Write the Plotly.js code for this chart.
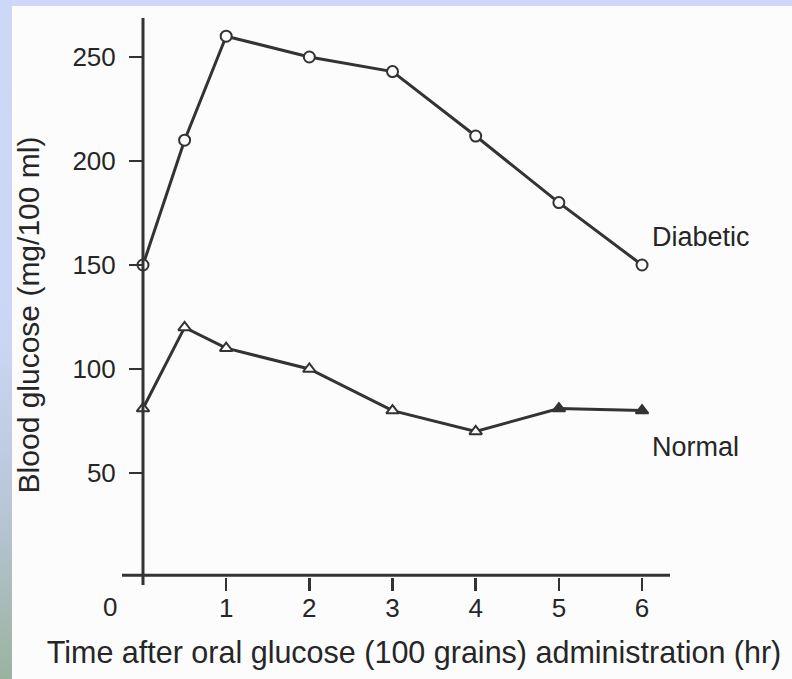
<!DOCTYPE html>
<html>
<head>
<meta charset="utf-8">
<script src="https://cdn.plot.ly/plotly-3.0.1.min.js"></script>
<style>
  html, body { margin: 0; padding: 0; }
  body {
    width: 792px; height: 679px; overflow: hidden; position: relative;
    background: linear-gradient(to bottom, #cdd8f8 0%, #cbd6f4 50%, #b8c6d6 75%, #9bb2a0 100%);
  }
  #chart { position: absolute; left: 12px; top: 6px; width: 780px; height: 673px; }
</style>
</head>
<body>
<div id="chart"></div>
<script>
// ---- data ----
const timeHr   = [0, 0.5, 1, 2, 3, 4, 5, 6];
const diabetic = [150, 210, 260, 250, 243, 212, 180, 150];
const normal   = [81, 120, 110, 100, 80, 70, 81, 80];
const xTickVals = [1, 2, 3, 4, 5, 6];
const yTickVals = [50, 100, 150, 200, 250];
const seriesLabels = ["Diabetic", "Normal"];
const xTitle = "Time after oral glucose (100 grains) administration (hr)";
const yTitle = "Blood glucose (mg/100 ml)";

// ---- styling ----
const ink = "#262626";
const lineInk = "#333333";
const paper = "#fcfcfc";
const font = "Liberation Sans, Arial, sans-serif";

const xRange = [-0.2525, 6.769];
const yRange = [-16.83, 268.75];

const traces = [
  {
    x: timeHr, y: diabetic, name: seriesLabels[0], type: "scatter", mode: "lines+markers",
    line: { color: lineInk, width: 3 },
    marker: { symbol: "circle", size: 11, color: paper, line: { color: lineInk, width: 2 } },
    cliponaxis: false
  },
  {
    x: timeHr, y: normal, name: seriesLabels[1], type: "scatter", mode: "lines+markers",
    line: { color: lineInk, width: 3 },
    marker: {
      symbol: "triangle-up", size: 11,
      color: normal.map((v, i) => (i >= timeHr.length - 2 ? lineInk : paper)),
      line: { color: lineInk, width: 2 }
    },
    cliponaxis: false
  }
];

const layout = {
  width: 780, height: 673,
  margin: { l: 110, r: 86, t: 12, b: 67 },
  paper_bgcolor: paper, plot_bgcolor: paper,
  showlegend: false,
  font: { family: font, color: ink, size: 26 },
  xaxis: {
    range: xRange, anchor: "free", position: 0.0589,
    showgrid: false, zeroline: false, showline: false,
    tickmode: "array", tickvals: xTickVals, ticktext: xTickVals.map(String),
    ticks: "outside", ticklen: 13, tickwidth: 2.5, tickcolor: lineInk,
    ticklabelstandoff: -5,
    tickfont: { size: 26, color: ink, family: font },
    title: { text: xTitle, font: { size: 30.5, color: ink, family: font }, standoff: 19 }
  },
  yaxis: {
    range: yRange, anchor: "free", position: 0.03596,
    showgrid: false, zeroline: false, showline: false,
    tickmode: "array", tickvals: yTickVals, ticktext: yTickVals.map(String),
    ticks: "outside", ticklen: 14, tickwidth: 2.5, tickcolor: lineInk,
    ticklabelstandoff: 8,
    tickfont: { size: 26, color: ink, family: font },
    title: { text: yTitle, font: { size: 30, color: ink, family: font }, standoff: 22 }
  },
  shapes: [
    { type: "line", xref: "x", yref: "y", x0: 0, x1: 0, y0: -3.85, y1: 268.75,
      line: { color: lineInk, width: 3 } },
    { type: "line", xref: "x", yref: "y", x0: -0.2525, x1: 6.336, y0: 0.8, y1: 0.8,
      line: { color: lineInk, width: 3 } }
  ],
  annotations: [
    { text: "0", xref: "paper", yref: "paper", x: -0.0205, y: 0.0, xanchor: "center", yanchor: "middle",
      yshift: 5, showarrow: false, font: { size: 26, color: ink, family: font } },
    { text: seriesLabels[0], xref: "x", yref: "y", x: 6.1, y: 163.5, xanchor: "left", yanchor: "middle",
      showarrow: false, font: { size: 27, color: ink, family: font } },
    { text: seriesLabels[1], xref: "x", yref: "y", x: 6.1, y: 62.5, xanchor: "left", yanchor: "middle",
      showarrow: false, font: { size: 27, color: ink, family: font } }
  ]
};

Plotly.newPlot("chart", traces, layout, { displayModeBar: false, staticPlot: true });
</script>
</body>
</html>
